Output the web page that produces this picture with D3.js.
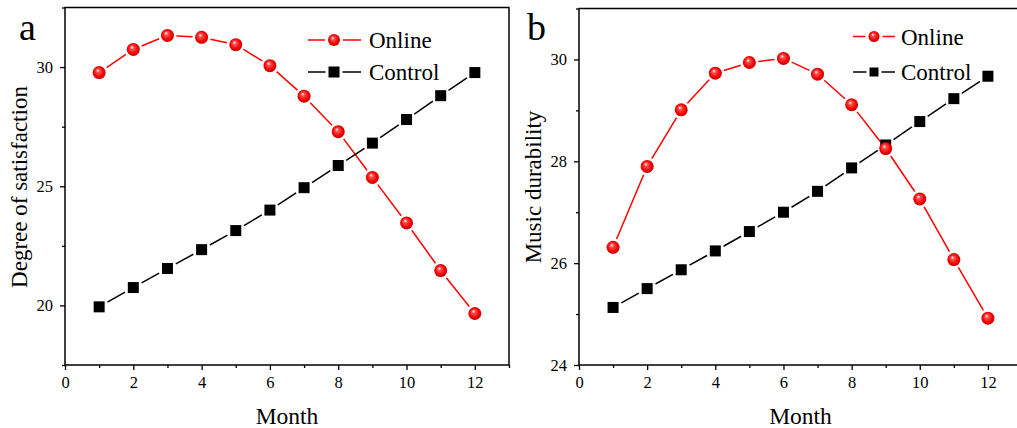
<!DOCTYPE html>
<html><head><meta charset="utf-8">
<script src="https://cdn.jsdelivr.net/npm/d3@7"></script>
<style>body{margin:0;background:#fff}svg{display:block}text{font-family:"Liberation Serif","Times New Roman",serif;fill:#000}</style>
</head><body><svg id="c" width="1017" height="428"></svg>
<script>
const months = [1,2,3,4,5,6,7,8,9,10,11,12];
const satOnline  = [29.77,30.74,31.33,31.25,30.94,30.06,28.78,27.29,25.37,23.46,21.46,19.66];
const satControl = [19.94,20.75,21.55,22.34,23.14,24.00,24.94,25.87,26.81,27.80,28.80,29.77];
const durOnline  = [26.31,27.90,29.01,29.73,29.94,30.02,29.71,29.11,28.25,27.26,26.07,24.92];
const durControl = [25.13,25.50,25.87,26.24,26.62,27.00,27.41,27.87,28.32,28.78,29.23,29.67];
const xMajor = [0,2,4,6,8,10,12];
const xMinor = [1,3,5,7,9,11,13];
const aMajor = [20,25,30], aMinor = [17.5,22.5,27.5,32.5];
const bMajor = [24,26,28,30], bMinor = [25,27,29,31];
const seriesNames = ["Online","Control"];

const svg = d3.select("#c");
const defs = svg.append("defs");
const g = defs.append("radialGradient").attr("id","sph").attr("cx","0.5").attr("cy","0.5").attr("r","0.55").attr("fx","0.38").attr("fy","0.32");
g.append("stop").attr("offset","0").attr("stop-color","#ffffff");
g.append("stop").attr("offset","0.25").attr("stop-color","#ff5050");
g.append("stop").attr("offset","0.7").attr("stop-color","#f00000");
g.append("stop").attr("offset","1").attr("stop-color","#c00000");

function panel(cfg){
  const x = d3.scaleLinear().domain([0,13]).range([cfg.x0,cfg.x1]);
  const y = d3.scaleLinear().domain(cfg.yDom).range([365,cfg.yTop]);
  const root = svg.append("g");
  root.append("rect").attr("x",cfg.x0).attr("y",cfg.yTop).attr("width",cfg.x1-cfg.x0).attr("height",365-cfg.yTop)
    .attr("fill","none").attr("stroke","#000").attr("stroke-width",1.5);
  const xa = root.append("g").attr("transform","translate(0,365)");
  xa.call(d3.axisBottom(x).tickValues(xMajor).tickSize(5).tickPadding(6).tickFormat(d3.format("d")));
  xa.append("g").call(d3.axisBottom(x).tickValues(xMinor).tickSize(3).tickFormat(""));
  xa.selectAll(".domain").remove();
  xa.selectAll("line").attr("stroke","#000").attr("stroke-width",1.3);
  xa.selectAll("text").attr("font-size",16.5).attr("font-family","Liberation Serif").attr("fill","#000");
  const ya = root.append("g").attr("transform",`translate(${cfg.x0},0)`);
  ya.call(d3.axisLeft(y).tickValues(cfg.major).tickSize(5).tickPadding(7).tickFormat(d3.format("d")));
  ya.append("g").call(d3.axisLeft(y).tickValues(cfg.minor).tickSize(3).tickFormat(""));
  ya.selectAll(".domain").remove();
  ya.selectAll("line").attr("stroke","#000").attr("stroke-width",1.3);
  ya.selectAll("text").attr("font-size",16.5).attr("font-family","Liberation Serif").attr("fill","#000");
  root.append("text").attr("x",(cfg.x0+cfg.x1)/2).attr("y",424).attr("text-anchor","middle").attr("font-size",23.5).text("Month");
  root.append("text").attr("transform",`translate(${cfg.yTitleX},187) rotate(-90)`).attr("text-anchor","middle").attr("font-size",23).text(cfg.yTitle);
  root.append("text").attr("x",cfg.letterX).attr("y",39.5).attr("font-size",38).text(cfg.letter);

  function gapLine(vals,color,gap){
    const pts = months.map((m,i)=>[x(m),y(vals[i])]);
    for(let i=0;i<pts.length-1;i++){
      const [ax,ay]=pts[i],[bx,by]=pts[i+1];
      const dx=bx-ax, dy=by-ay, L=Math.hypot(dx,dy);
      if(L<=2*gap) continue;
      const ux=dx/L, uy=dy/L;
      root.append("line").attr("x1",ax+ux*gap).attr("y1",ay+uy*gap).attr("x2",bx-ux*gap).attr("y2",by-uy*gap)
        .attr("stroke",color).attr("stroke-width",1.5);
    }
  }
  gapLine(cfg.online,"#ff0000",9);
  gapLine(cfg.control,"#000",9.5);
  root.selectAll(null).data(cfg.control).enter().append("rect")
    .attr("x",(d,i)=>x(months[i])-5.5).attr("y",d=>y(d)-5.5).attr("width",11).attr("height",11).attr("fill","#000");
  root.selectAll(null).data(cfg.online).enter().append("circle")
    .attr("cx",(d,i)=>x(months[i])).attr("cy",d=>y(d)).attr("r",6.5).attr("fill","url(#sph)");

  const L = cfg.legend;
  seriesNames.forEach((name,k)=>{
    const ly = L.ys[k];
    const col = k===0?"#ff0000":"#000";
    const half = k===0?L.mr+3:L.ms/2+3;
    root.append("line").attr("x1",L.x0).attr("x2",L.mx-half).attr("y1",ly).attr("y2",ly).attr("stroke",col).attr("stroke-width",1.5);
    root.append("line").attr("x1",L.mx+half).attr("x2",L.x1).attr("y1",ly).attr("y2",ly).attr("stroke",col).attr("stroke-width",1.5);
    if(k===0) root.append("circle").attr("cx",L.mx).attr("cy",ly).attr("r",L.mr).attr("fill","url(#sph)");
    else root.append("rect").attr("x",L.mx-L.ms/2).attr("y",ly-L.ms/2).attr("width",L.ms).attr("height",L.ms).attr("fill","#000");
    root.append("text").attr("x",L.tx).attr("y",ly).attr("dy","0.35em").attr("font-size",23).text(name);
  });
}

panel({x0:65,x1:509,yTop:7.5,yDom:[17.5,32.5],major:aMajor,minor:aMinor,online:satOnline,control:satControl,
  yTitle:"Degree of satisfaction",yTitleX:27,letter:"a",letterX:19,
  legend:{x0:308,x1:361,mx:334,tx:369,ys:[40,72],mr:6,ms:11}});
panel({x0:579,x1:1022,yTop:8.5,yDom:[24,31],major:bMajor,minor:bMinor,online:durOnline,control:durControl,
  yTitle:"Music durability",yTitleX:541,letter:"b",letterX:527,
  legend:{x0:853,x1:895,mx:874,tx:901,ys:[36.5,72],mr:5.5,ms:9}});
</script></body></html>
